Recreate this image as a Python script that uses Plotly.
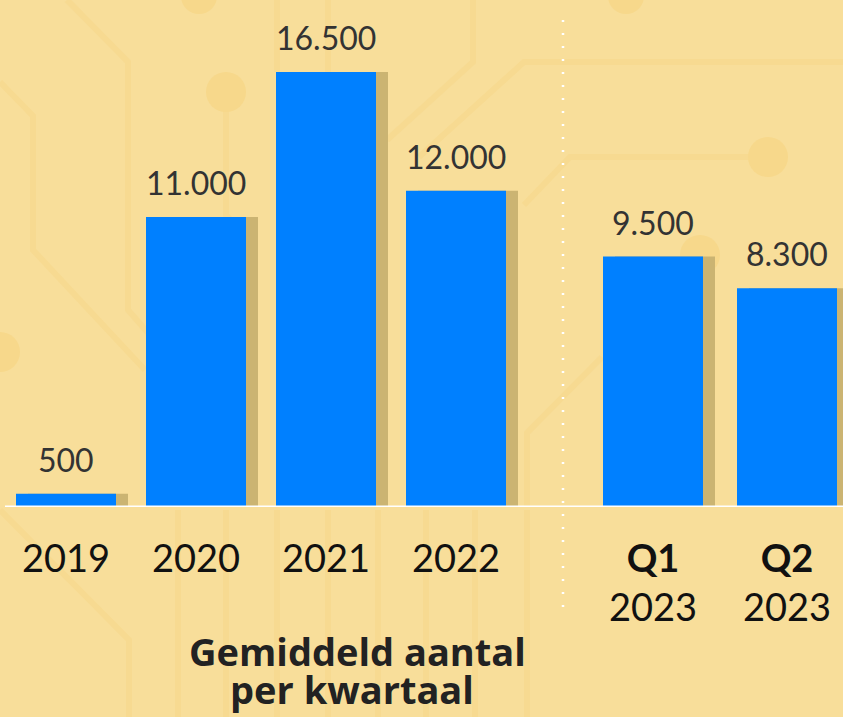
import plotly.graph_objects as go

# ---------------- data ----------------
years = ["2019", "2020", "2021", "2022"]
year_values = [500, 11000, 16500, 12000]
quarters = ["Q1", "Q2"]
quarter_year = "2023"
quarter_values = [9500, 8300]
title_lines = ["Gemiddeld aantal", "per kwartaal"]

# ---------------- style ----------------
W, H = 843, 717
BG = "#F8DE9A"
DECOR = "#F7DA91"
DECOR_DOT = "#F7D88B"
BLUE = "#0080FF"
SHADOW = "#CBB472"
FONT = "Lato"
TITLE_FONT = "Open Sans"

def fmt(v):
    return f"{v:,}".replace(",", ".")

def px(x):
    return x / W

def py(y):
    return 1 - y / H

fig = go.Figure()

# left group (years)
wl = 100 / 130
ol = -wl / 2
fig.add_trace(go.Bar(x=years, y=year_values, width=wl, offset=ol + 12 / 130,
                     marker=dict(color=SHADOW, line=dict(width=0)),
                     xaxis="x", yaxis="y", hoverinfo="skip"))
fig.add_trace(go.Bar(x=years, y=year_values, width=wl, offset=ol,
                     marker=dict(color=BLUE, line=dict(width=0)),
                     xaxis="x", yaxis="y"))

# right group (quarters)
q_cats = [f"{q} {quarter_year}" for q in quarters]
wr = 100 / 134
orr = -wr / 2
fig.add_trace(go.Bar(x=q_cats, y=quarter_values, width=wr, offset=orr + 12 / 134,
                     marker=dict(color=SHADOW, line=dict(width=0)),
                     xaxis="x2", yaxis="y", hoverinfo="skip"))
fig.add_trace(go.Bar(x=q_cats, y=quarter_values, width=wr, offset=orr,
                     marker=dict(color=BLUE, line=dict(width=0)),
                     xaxis="x2", yaxis="y"))

annotations = []
label_font = dict(family=FONT, size=32, color="#333333")
for i, v in enumerate(year_values):
    annotations.append(dict(x=i, y=v, xref="x", yref="y", text=fmt(v), showarrow=False,
                            yanchor="bottom", yshift=13, font=label_font))
for i, v in enumerate(quarter_values):
    annotations.append(dict(x=i, y=v, xref="x2", yref="y", text=fmt(v), showarrow=False,
                            yanchor="bottom", yshift=13, font=label_font))

# title lines
annotations.append(dict(x=px(357), y=py(651), xref="paper", yref="paper", text=f"<b>{title_lines[0]}</b>",
                        showarrow=False, xanchor="center", yanchor="middle",
                        font=dict(family=TITLE_FONT, size=38, color="#222222")))
annotations.append(dict(x=px(352), y=py(689), xref="paper", yref="paper", text=f"<b>{title_lines[1]}</b>",
                        showarrow=False, xanchor="center", yanchor="middle",
                        font=dict(family=TITLE_FONT, size=38, color="#222222")))

# ---------------- decorations ----------------
shapes = []

def poly(pts, width=6):
    path = "M " + " L ".join(f"{px(x)},{py(y)}" for x, y in pts)
    shapes.append(dict(type="path", path=path, xref="paper", yref="paper",
                       line=dict(color=DECOR, width=width), layer="below"))

def circ(cx, cy, r):
    shapes.append(dict(type="circle", xref="paper", yref="paper",
                       x0=px(cx - r), x1=px(cx + r), y0=py(cy + r), y1=py(cy - r),
                       fillcolor=DECOR_DOT, line=dict(width=0), layer="below"))

poly([(67, 0), (128, 62), (128, 310), (250, 450)])
poly([(0, 82), (33, 116), (33, 250), (145, 370)])
poly([(0, 510), (129, 640), (129, 717)])
poly([(226, 110), (226, 215), (250, 240)])
poly([(473, 0), (473, 62), (387, 140)])
poly([(843, 62), (524, 62), (419, 157)])
poly([(768, 157), (570, 157), (524, 205)])
poly([(602, 357), (527, 433), (527, 507)])
poly([(277, 0), (277, 72)])
poly([(328, 0), (328, 72)])
for sx in [178, 226, 277, 328, 378, 426, 475, 527]:
    poly([(sx, 510), (sx, 717)])
circ(226, 92, 20)
circ(768, 157, 20)
circ(700, 255, 20)
circ(0, 352, 20)
circ(199, -4, 18)
circ(626, -4, 18)

# baseline
shapes.append(dict(type="line", xref="paper", yref="y", x0=px(5), x1=1, y0=0, y1=0,
                   line=dict(color="white", width=3), layer="above"))
# dotted separator
shapes.append(dict(type="line", xref="paper", yref="paper", x0=px(563), x1=px(563),
                   y0=py(20), y1=py(611), line=dict(color="white", width=2.5, dash="2px,11px"),
                   layer="above"))

Y_TOP = 507 / (435 / 16500)

tick_font = dict(family=FONT, size=38, color="#111111")
fig.update_layout(
    width=W, height=H,
    margin=dict(l=0, r=0, t=0, b=0),
    paper_bgcolor=BG, plot_bgcolor="rgba(0,0,0,0)",
    barmode="overlay", showlegend=False,
    xaxis=dict(domain=[px(1), px(521)], range=[-0.5, 3.5], type="category",
               categoryorder="array", categoryarray=years,
               showgrid=False, zeroline=False, showline=False,
               ticks="outside", ticklen=18, tickcolor="rgba(0,0,0,0)",
               tickfont=tick_font, anchor="y", fixedrange=True),
    xaxis2=dict(domain=[px(586), 1], range=[-0.5, -0.5 + 257 / 134], type="category",
                categoryorder="array", categoryarray=q_cats,
                tickvals=q_cats, ticktext=[f"<b>{q}</b><br>{quarter_year}" for q in quarters],
                showgrid=False, zeroline=False, showline=False,
                ticks="outside", ticklen=18, tickcolor="rgba(0,0,0,0)",
                tickfont=tick_font, anchor="y", fixedrange=True),
    yaxis=dict(domain=[(H - 507) / H, 1], range=[0, Y_TOP], visible=False, fixedrange=True),
    annotations=annotations,
    shapes=shapes,
)

fig.write_html("out.html", config={"displayModeBar": False},
               post_script="document.body.style.margin='0';document.body.style.padding='0';")
